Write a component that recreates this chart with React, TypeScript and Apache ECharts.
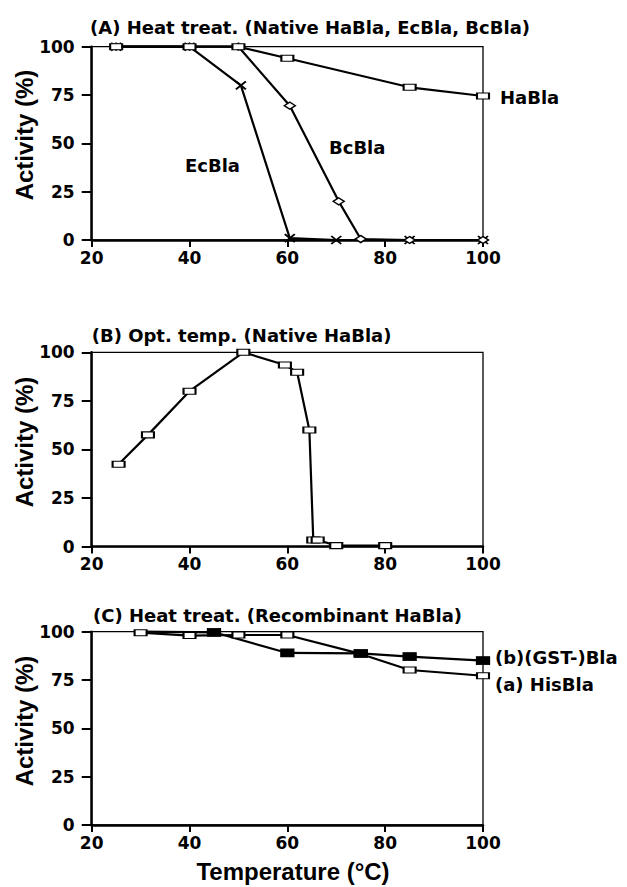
import React, { useEffect, useRef } from "react";
import * as echarts from "echarts";

// Panel A: heat treatment (native enzymes)
const A_HABLA_T = [25, 40, 50, 60, 85, 100];
const A_HABLA_V = [100, 100, 100, 94, 79, 74.5];
const A_ECBLA_T = [25, 40, 50.5, 60.5, 70, 85, 100];
const A_ECBLA_V = [100, 100, 80, 1, 0, 0, 0];
const A_BCBLA_T = [25, 40, 50, 60.5, 70.5, 75, 85, 100];
const A_BCBLA_V = [100, 100, 100, 69.5, 20, 0.5, 0, 0];

// Panel B: optimum temperature (native HaBla)
const B_T = [25.5, 31.5, 40, 51, 59.5, 62, 64.5, 65.3, 66.2, 70, 80];
const B_V = [42.4, 57.5, 80, 100, 93.5, 89.7, 60, 3.4, 3.4, 0.5, 0.5];

// Panel C: heat treatment (recombinant HaBla)
const C_HIS_T = [30, 40, 50, 60, 75, 85, 100];
const C_HIS_V = [99.5, 98, 98.3, 98.3, 88.5, 80.2, 77.2];
const C_GST_T = [30, 45, 60, 75, 85, 100];
const C_GST_V = [100, 99.7, 89, 88.8, 87.1, 85];

const X_TICKS = [20, 40, 60, 80, 100];
const Y_TICKS = [0, 25, 50, 75, 100];

const TITLES = [
  "(A) Heat treat. (Native HaBla, EcBla, BcBla)",
  "(B) Opt. temp. (Native HaBla)",
  "(C) Heat treat. (Recombinant HaBla)",
];

const pairs = (t: number[], v: number[]) => t.map((x, i) => [x, v[i]]);

const FONT = '"DejaVu Sans", sans-serif';
const FONT2 = '"Liberation Sans", Arial, sans-serif';

export default function App() {
  const ref = useRef<HTMLDivElement>(null);
  useEffect(() => {
    if (!ref.current) return;
    const chart = echarts.init(ref.current, undefined, { renderer: "svg" });

    const grids = [
      { left: 91.7, width: 391.3, top: 46.7, height: 193.3 },
      { left: 91.7, width: 391.3, top: 352.3, height: 194.3 },
      { left: 91.7, width: 391.3, top: 631.7, height: 193.3 },
    ].map((g) => ({
      ...g,
      show: true,
      borderColor: "#000",
      borderWidth: 1.3,
      backgroundColor: "transparent",
    }));

    const xAxes = grids.map((_, i) => ({
      type: "value",
      gridIndex: i,
      min: X_TICKS[0],
      max: X_TICKS[X_TICKS.length - 1],
      interval: 20,
      splitLine: { show: false },
      axisLine: { show: true, onZero: false, lineStyle: { color: "#000", width: 2.5 } },
      axisTick: { show: true, length: 7, lineStyle: { color: "#000", width: 2 } },
      axisLabel: {
        color: "#000",
        fontFamily: FONT,
        fontWeight: "bold",
        fontSize: 17,
        margin: 9,
      },
    }));

    const yAxes = grids.map((_, i) => ({
      type: "value",
      gridIndex: i,
      min: Y_TICKS[0],
      max: Y_TICKS[Y_TICKS.length - 1],
      interval: 25,
      splitLine: { show: false },
      axisLine: { show: true, lineStyle: { color: "#000", width: 2.5 } },
      axisTick: { show: true, length: 10, lineStyle: { color: "#000", width: 2 } },
      axisLabel: {
        color: "#000",
        fontFamily: FONT,
        fontWeight: "bold",
        fontSize: 17,
        margin: 17,
      },
    }));

    const lineBase = {
      type: "line",
      clip: false,
      lineStyle: { color: "#000", width: 2.2 },
      z: 3,
    };
    const openSq = {
      symbol: "rect",
      symbolSize: [12, 6],
      itemStyle: { color: "#fff", borderColor: "#000", borderWidth: 1.5 },
    };
    const xMark = {
      symbol: "path://M0,0L10,8M10,0L0,8",
      symbolSize: [10, 8],
      itemStyle: { color: "#000", borderColor: "#000", borderWidth: 1.8 },
    };
    const diamond = {
      symbol: "diamond",
      symbolSize: [11, 7],
      itemStyle: { color: "#fff", borderColor: "#000", borderWidth: 1.5 },
    };
    const fillSq = {
      symbol: "rect",
      symbolSize: [13, 8],
      itemStyle: { color: "#000", borderColor: "#000", borderWidth: 1 },
    };

    const gstData = pairs(C_GST_T, C_GST_V).map((p, i) =>
      i === 0 ? { value: p, symbol: "none" } : p
    );

    const series = [
      { ...lineBase, ...xMark, name: "EcBla", xAxisIndex: 0, yAxisIndex: 0, data: pairs(A_ECBLA_T, A_ECBLA_V) },
      { ...lineBase, ...diamond, name: "BcBla", xAxisIndex: 0, yAxisIndex: 0, data: pairs(A_BCBLA_T, A_BCBLA_V) },
      { ...lineBase, ...openSq, name: "HaBla", xAxisIndex: 0, yAxisIndex: 0, data: pairs(A_HABLA_T, A_HABLA_V) },
      { ...lineBase, ...openSq, name: "HaBla (B)", xAxisIndex: 1, yAxisIndex: 1, data: pairs(B_T, B_V) },
      { ...lineBase, ...openSq, name: "(a) HisBla", xAxisIndex: 2, yAxisIndex: 2, data: pairs(C_HIS_T, C_HIS_V) },
      { ...lineBase, ...fillSq, name: "(b) (GST-)Bla", xAxisIndex: 2, yAxisIndex: 2, data: gstData },
    ];

    const txt = (
      text: string,
      x: number,
      y: number,
      size: number,
      align = "left",
      family = FONT,
      rotation = 0
    ) => ({
      type: "text",
      x,
      y,
      rotation,
      style: {
        text,
        fill: "#000",
        fontFamily: family,
        fontWeight: "bold",
        fontSize: size,
        align,
        verticalAlign: "middle",
      },
      z: 10,
    });

    const graphic = [
      txt(TITLES[0], 90, 27, 18),
      txt(TITLES[1], 91.7, 335, 18),
      txt(TITLES[2], 93, 615, 18),
      txt("HaBla", 500, 97, 18),
      txt("EcBla", 185, 165, 18),
      txt("BcBla", 329, 147, 18),
      txt("(b)(GST-)Bla", 495, 657, 18),
      txt("(a) HisBla", 495, 684, 18),
      txt("Activity (%)", 24, 135, 24, "center", FONT2, Math.PI / 2),
      txt("Activity (%)", 24, 442, 24, "center", FONT2, Math.PI / 2),
      txt("Activity (%)", 24, 721, 24, "center", FONT2, Math.PI / 2),
      txt("Temperature (°C)", 293, 871, 24, "center", FONT2),
    ];

    chart.setOption({
      animation: false,
      backgroundColor: "#fff",
      grid: grids,
      xAxis: xAxes,
      yAxis: yAxes,
      series,
      graphic,
    });

    return () => chart.dispose();
  }, []);

  return (
    <div
      ref={ref}
      style={{ position: "fixed", left: 0, top: 0, width: 627, height: 887, background: "#fff" }}
    />
  );
}
